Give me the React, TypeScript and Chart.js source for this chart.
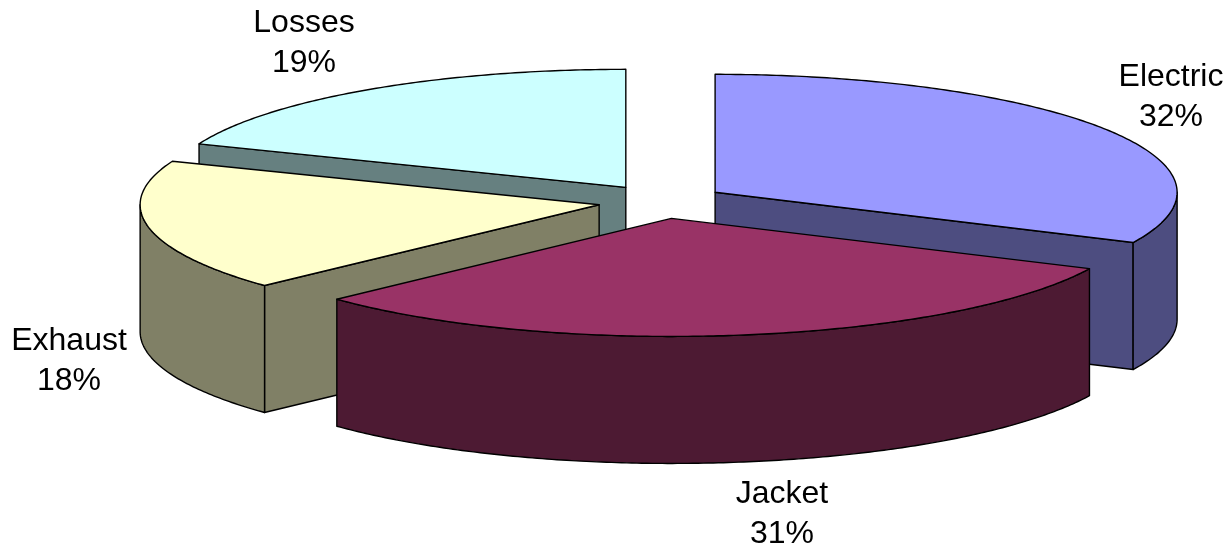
import React, { useEffect, useRef } from "react";
import { Chart, registerables } from "chart.js";

Chart.register(...registerables);

const categories = ["Electric", "Jacket", "Exhaust", "Losses"];
const shares = [32, 31, 18, 19];
const topColors = ["#9999FF", "#993366", "#FFFFCC", "#CCFFFF"];
const wallColors = ["#4D4D80", "#4D1A33", "#808066", "#668080"];

// Back-to-front painting sequence of the slices.
const paintOrder = [3, 0, 2, 1];
// Centre of each two-line slice caption.
const captionAnchors = [
  { x: 1171, y: 97 },
  { x: 782, y: 514 },
  { x: 69, y: 361 },
  { x: 304, y: 43 },
];

const PIE = {
  cx: 661.5,
  cy: 201.5,
  radiusRight: 462,
  radiusLeft: 459,
  radiusY: 118,
  pullTilt: 0.27,
  depth: 127,
};

// Draws the pie as a tilted, extruded disc from the arc elements Chart.js laid out.
const tiltedPie = {
  id: "tiltedPie",
  beforeDatasetDraw(chart: any) {
    const ctx: CanvasRenderingContext2D = chart.ctx;
    const arcs = chart.getDatasetMeta(0).data;
    const scale = PIE.radiusRight / arcs[0].outerRadius;

    const outline = () => {
      ctx.strokeStyle = "#000";
      ctx.lineWidth = 1.4;
      ctx.lineJoin = "round";
      ctx.fill();
      ctx.stroke();
    };

    for (const index of paintOrder) {
      const arc = arcs[index];
      const { startAngle: a0, endAngle: a1 } = arc;
      const mid = (a0 + a1) / 2;
      const pull = (arc.options.offset / 4) * scale;
      const ox = PIE.cx + Math.cos(mid) * pull;
      const oy = PIE.cy + Math.sin(mid) * pull * PIE.pullTilt;
      const px = (a: number) => {
        const c = Math.cos(a);
        return ox + c * (c > 0 ? PIE.radiusRight : PIE.radiusLeft);
      };
      const py = (a: number) => oy + Math.sin(a) * PIE.radiusY;

      // Follows the rim between two angles, at a vertical drop below the top face.
      const rim = (from: number, to: number, drop: number) => {
        const steps = Math.max(2, Math.ceil(Math.abs(to - from) * 90));
        for (let s = 0; s <= steps; s++) {
          const a = from + ((to - from) * s) / steps;
          ctx.lineTo(px(a), py(a) + drop);
        }
      };

      ctx.save();
      ctx.fillStyle = wallColors[index];

      // Flat cut faces, only where they turn toward the viewer.
      const cutFace = (a: number) => {
        ctx.beginPath();
        ctx.moveTo(ox, oy);
        ctx.lineTo(px(a), py(a));
        ctx.lineTo(px(a), py(a) + PIE.depth);
        ctx.lineTo(ox, oy + PIE.depth);
        ctx.closePath();
        outline();
      };
      if (Math.sin(a0 - Math.PI / 2) > 1e-6) cutFace(a0);
      if (Math.sin(a1 + Math.PI / 2) > 1e-6) cutFace(a1);

      // Outer wall: the part of the edge on the near half of the disc.
      const norm = (a: number) => ((a % (2 * Math.PI)) + 2 * Math.PI) % (2 * Math.PI);
      let from = norm(a0);
      let to = from + (a1 - a0);
      if (from >= Math.PI) {
        from -= 2 * Math.PI;
        to -= 2 * Math.PI;
      }
      from = Math.max(from, 0);
      to = Math.min(to, Math.PI);
      if (to > from) {
        ctx.beginPath();
        ctx.moveTo(px(from), py(from));
        rim(from, to, 0);
        rim(to, from, PIE.depth);
        ctx.closePath();
        outline();
      }

      // Top face.
      ctx.fillStyle = arc.options.backgroundColor;
      ctx.beginPath();
      ctx.moveTo(ox, oy);
      rim(a0, a1, 0);
      ctx.closePath();
      outline();
      ctx.restore();
    }

    // Captions: category name over its share of the total.
    const total = shares.reduce((sum, v) => sum + v, 0);
    ctx.save();
    ctx.fillStyle = "#000";
    ctx.font = '32px "Liberation Sans"';
    ctx.textAlign = "center";
    ctx.textBaseline = "middle";
    categories.forEach((name, i) => {
      const { x, y } = captionAnchors[i];
      ctx.fillText(name, x, y - 20);
      ctx.fillText(`${Math.round((shares[i] / total) * 100)}%`, x, y + 20);
    });
    ctx.restore();
    return false;
  },
};

export default function App() {
  const canvasRef = useRef<HTMLCanvasElement>(null);

  useEffect(() => {
    document.body.style.margin = "0";
    const chart = new Chart(canvasRef.current!, {
      type: "pie",
      data: {
        labels: categories,
        datasets: [
          {
            data: shares,
            backgroundColor: topColors,
            borderWidth: 0,
            offset: 119,
            hoverOffset: 0,
          },
        ],
      },
      options: {
        responsive: false,
        animation: false,
        events: [],
        plugins: { legend: { display: false }, tooltip: { enabled: false } },
      },
      plugins: [tiltedPie],
    } as any);
    return () => chart.destroy();
  }, []);

  return (
    <canvas
      ref={canvasRef}
      width={1230}
      height={552}
      style={{ display: "block", background: "#fff" }}
    />
  );
}
